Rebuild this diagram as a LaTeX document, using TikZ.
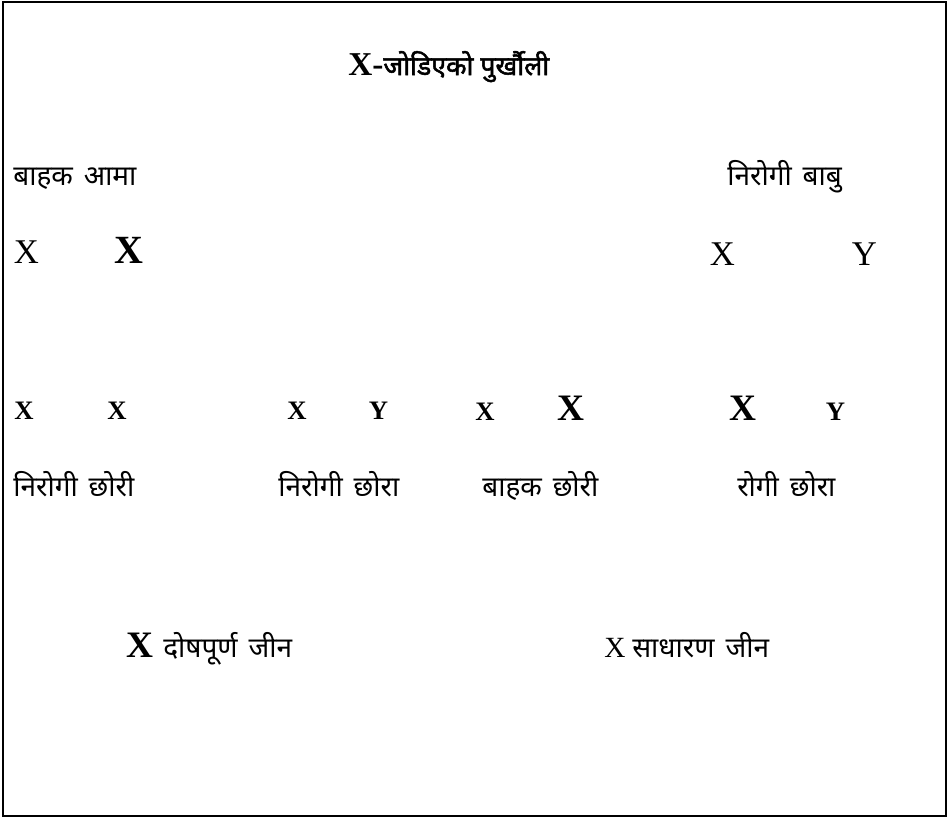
\documentclass[tikz,border=0pt]{standalone}
\usepackage{fontspec}
\setmainfont{Liberation Serif}
\newfontfamily\deva[Script=Devanagari, WordSpace=1.5]{Noto Sans}
\newfontfamily\devabf[Script=Devanagari, FakeBold=2]{Noto Sans}

\begin{document}
\begin{tikzpicture}[
  x=0.75pt, y=-0.75pt,
  lbl/.style={inner sep=0pt, anchor=base west, font=\deva\fontsize{21}{25}\selectfont},
  allele/.style={inner sep=0pt, anchor=base, font=\fontsize{26}{30}\selectfont},
  badbig/.style={inner sep=0pt, anchor=base, font=\bfseries\fontsize{30}{34}\selectfont},
  kid/.style={inner sep=0pt, anchor=base, font=\bfseries\fontsize{20}{24}\selectfont},
  kidbad/.style={inner sep=0pt, anchor=base, font=\bfseries\fontsize{28}{32}\selectfont},
]
  \useasboundingbox (0,0) rectangle (949,818);
  \draw[line width=1.5pt] (3,2) rectangle (946,816);

  % शीर्षक
  \node[inner sep=0pt, anchor=base west] (title) at (348,75)
    {\fontsize{25}{30}\selectfont\bfseries X-\devabf\fontsize{20}{24}\selectfont जोडिएको पुर्खौली};

  % आमाबाबु
  \node[lbl] (mom) at (13,185) {बाहक आमा};
  \node[lbl] (dad) at (727,185) {निरोगी बाबु};
  \node[allele] (m1) at (26.5,263) {X};
  \node[badbig] (m2) at (128.5,263) {X};
  \node[allele] (d1) at (722.5,265) {X};
  \node[allele] (d2) at (864.5,265) {Y};

  % सन्तान
  \node[kid] (c1a) at (24,419) {X};
  \node[kid] (c1b) at (117,419) {X};
  \node[kid] (c2a) at (297,419) {X};
  \node[kid] (c2b) at (378.5,419) {Y};
  \node[kid] (c3a) at (485,420) {X};
  \node[kidbad] (c3b) at (571,420) {X};
  \node[kidbad] (c4a) at (742.5,420) {X};
  \node[kid] (c4b) at (835.5,420) {Y};

  \node[lbl] (girl1) at (13,496) {निरोगी छोरी};
  \node[lbl] (boy1) at (278,496) {निरोगी छोरा};
  \node[lbl] (girl2) at (482,496) {बाहक छोरी};
  \node[lbl] (boy2) at (737,496) {रोगी छोरा};

  % सङ्केत
  \node[kidbad] (keybad) at (140,657) {X};
  \node[lbl] (keybadtxt) at (163,657) {दोषपूर्ण जीन};
  \node[inner sep=0pt, anchor=base, font=\fontsize{22}{26}\selectfont] (keyok) at (615,657) {X};
  \node[lbl] (keyoktxt) at (632,657) {साधारण जीन};
\end{tikzpicture}
\end{document}
